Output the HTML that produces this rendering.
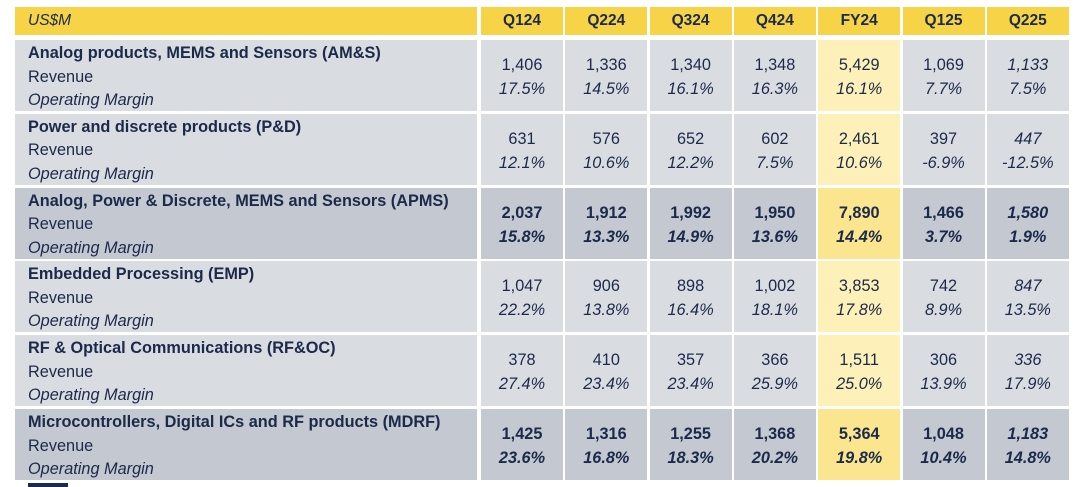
<!DOCTYPE html>
<html><head><meta charset="utf-8"><style>
body{margin:0;width:1080px;height:487px;background:#fff;position:relative;overflow:hidden;font-family:"Liberation Sans",Arial,sans-serif;color:#1b2a4a}
.c{position:absolute;box-sizing:border-box}
.h{background:#f7d447;font-weight:bold;font-size:15.5px;text-align:center;line-height:27px}
.lab{padding-left:13px;font-size:16.3px;line-height:23.5px;padding-top:2px}
.v{text-align:center;font-size:16.3px;line-height:24px;padding-top:13px}
</style></head><body>
<div id="t"></div>
<div class="c" style="left:28px;top:483px;width:40px;height:4px;background:#1b2a4a"></div>
<script>
const cols=["Q124","Q224","Q324","Q424","FY24","Q125","Q225"];
const segments=["Analog products, MEMS and Sensors (AM&S)","Power and discrete products (P&D)","Analog, Power & Discrete, MEMS and Sensors (APMS)","Embedded Processing (EMP)","RF & Optical Communications (RF&OC)","Microcontrollers, Digital ICs and RF products  (MDRF)"];
const totals=[false,false,true,false,false,true];
const revenue=[["1,406","1,336","1,340","1,348","5,429","1,069","1,133"],["631","576","652","602","2,461","397","447"],["2,037","1,912","1,992","1,950","7,890","1,466","1,580"],["1,047","906","898","1,002","3,853","742","847"],["378","410","357","366","1,511","306","336"],["1,425","1,316","1,255","1,368","5,364","1,048","1,183"]];
const margin=[["17.5%","14.5%","16.1%","16.3%","16.1%","7.7%","7.5%"],["12.1%","10.6%","12.2%","7.5%","10.6%","-6.9%","-12.5%"],["15.8%","13.3%","14.9%","13.6%","14.4%","3.7%","1.9%"],["22.2%","13.8%","16.4%","18.1%","17.8%","8.9%","13.5%"],["27.4%","23.4%","23.4%","25.9%","25.0%","13.9%","17.9%"],["23.6%","16.8%","18.3%","20.2%","19.8%","10.4%","14.8%"]];
const t=document.getElementById('t');
function mk(cls,x,y,w,h,html,bg){const d=document.createElement('div');d.className='c '+cls;d.style.cssText=`left:${x}px;top:${y}px;width:${w}px;height:${h}px;`+(bg?`background:${bg};`:'');d.innerHTML=html;t.appendChild(d);return d;}
const colX=i=>481+i*84.3, colW=82, rowY=r=>40+r*73.8, rowH=71;
let d=mk('h',15,7,462,28,'<i style="font-weight:normal;padding-left:13px">US$M</i>');d.style.textAlign='left';


cols.forEach((c,i)=>{const e=mk('h',colX(i),7,colW,28,c);

});
segments.forEach((s,r)=>{
 const tot=totals[r];const bg=tot?'#c3c8d1':'#d9dce1';
 const l=mk('lab',15,rowY(r),462,rowH,`<b>${s.replace('&','&amp;')}</b><br>Revenue<br><i>Operating Margin</i>`,bg);
 
 
 cols.forEach((c,i)=>{
  const fy=c==='FY24';const cb=fy?(tot?'#fbe58f':'#fdf0b8'):bg;
  const last=i===6;
  const rv=(last?'<i>':'')+revenue[r][i]+(last?'</i>':'');
  const v=mk('v',colX(i),rowY(r),colW,rowH,`<span style="font-weight:${tot?'bold':'normal'}">${rv}<br><i>${margin[r][i]}</i></span>`,cb);
  
  
 });
});
</script>
</body></html>
